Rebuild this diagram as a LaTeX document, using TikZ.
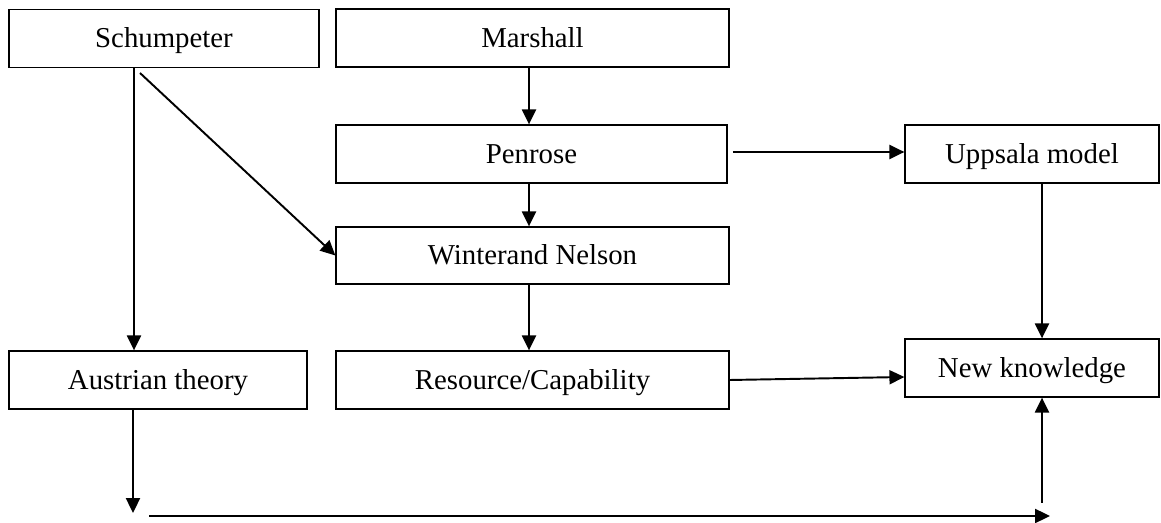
\documentclass[tikz,border=0pt]{standalone}
\usepackage{fontspec}
\setmainfont{Liberation Serif}
\usepackage{tikz}
\usetikzlibrary{arrows.meta, positioning}

\begin{document}
\begin{tikzpicture}[x=0.02cm,y=-0.02cm,
    box/.style={draw,line width=0.75pt,inner sep=0pt,minimum height=1.16cm,
          text height=10.8pt,text depth=0pt,
          font=\fontsize{16.4}{19}\selectfont},
    flow/.style={line width=1.1pt,-{Triangle[length=8.5pt,width=8pt]}}]
    \useasboundingbox (0,0) rectangle (1161,523);
    \node[box,minimum width=6.2cm] (schump) at (164,38.5) {Schumpeter};
    \node[box,minimum width=7.86cm] (marshall) at (532.5,38) {Marshall};
    \node[box,minimum width=7.82cm] (penrose) at (531.5,154) {Penrose};
    \node[box,minimum width=5.08cm] (uppsala) at (1032,154) {Uppsala model};
    \node[box,minimum width=7.86cm,minimum height=1.14cm] (winter) at (532.5,255.5) {Winterand Nelson};
    \node[box,minimum width=5.96cm] (austrian) at (158,380) {Austrian theory};
    \node[box,minimum width=7.86cm] (resource) at (532.5,380) {Resource/Capability};
    \node[box,minimum width=5.08cm] (newknow) at (1032,368) {New knowledge};
    % helper points
    \coordinate (sx) at (134,0);
    \coordinate (sd) at (140,73);
    \coordinate (mx) at (529,0);
    \coordinate (ux) at (1042,0);
    \coordinate (down) at (133,513);
    \coordinate (lineL) at (149,516);
    \coordinate (lineR) at (1050,516);
    \coordinate (up) at (1042,503);
    \draw[flow] (schump.south -| sx) -- (austrian.north -| sx);
    \draw[flow] (sd) -- (winter.west);
    \draw[flow] (marshall.south -| mx) -- (penrose.north -| mx);
    \draw[flow,shorten <=3pt] ([yshift=0.04cm]penrose.east) -- ([yshift=0.04cm]uppsala.west);
    \draw[flow] (penrose.south -| mx) -- (winter.north -| mx);
    \draw[flow] (uppsala.south -| ux) -- (newknow.north -| ux);
    \draw[flow] (winter.south -| mx) -- (resource.north -| mx);
    \draw[flow] (resource.east) -- ([yshift=-0.18cm]newknow.west);
    \draw[flow] (austrian.south -| down) -- (down);
    \draw[flow] (lineL) -- (lineR);
    \draw[flow] (up) -- (newknow.south -| up);
  \end{tikzpicture}
\end{document}
